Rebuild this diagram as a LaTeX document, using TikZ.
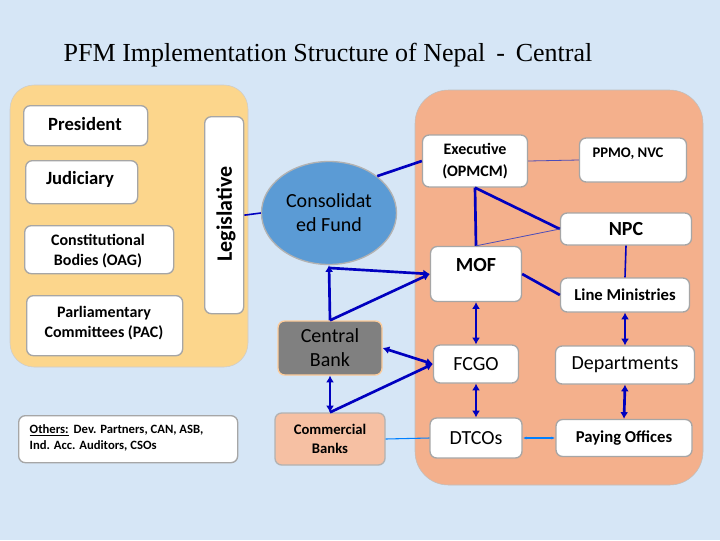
\documentclass[tikz,border=0pt]{standalone}
\usepackage{fontspec}
\setmainfont{Carlito}
\newfontfamily\titlefont{Liberation Serif}
\usetikzlibrary{arrows.meta,shapes.geometric}
\definecolor{bg}{RGB}{214,230,246}
\definecolor{yel}{RGB}{252,214,140}
\definecolor{org}{RGB}{244,176,140}
\definecolor{cfc}{RGB}{91,155,213}
\begin{document}
\begin{tikzpicture}[x=0.75pt,y=-0.75pt,
 bx/.style={draw=gray!70,line width=1pt,fill=white,rounded corners=5pt,align=center,inner sep=0pt},
 tk/.style={draw=blue!75!black,line width=2pt},
 med/.style={draw=blue!75!black,line width=1.2pt},
 thn/.style={draw=blue!60!black!70,line width=0.6pt},
 dbl/.style={tk,{Latex[length=5pt,width=6pt]}-{Latex[length=5pt,width=6pt]}},
 ar/.style={tk,-{Latex[length=5pt,width=6pt]}}]
\fill[bg] (0,0) rectangle (720,540);
\useasboundingbox (0,0) rectangle (720,540);
\node[font=\titlefont\fontsize{19.5}{22}\selectfont] (title) at (328,55) {PFM Implementation Structure of Nepal \,-\, Central};
% containers
\fill[yel,draw=gray!40,rounded corners=18pt] (10,85) rectangle (248,367);
\fill[org,draw=gray!50,rounded corners=25pt] (415,90) rectangle (703,485);
% left side
\node[bx,minimum width=124*0.75pt,minimum height=40*0.75pt,anchor=north west] (pres) at (23,105) {};
\node[font=\bfseries\fontsize{14}{16}\selectfont] at (85,124) {President};
\node[bx,minimum width=112*0.75pt,minimum height=43*0.75pt,anchor=north west] (jud) at (25,160) {};
\node[font=\bfseries\fontsize{14}{16}\selectfont] at (80,179) {Judiciary};
\node[bx,minimum width=149*0.75pt,minimum height=48*0.75pt,anchor=north west] (con) at (24,225) {};
\node[font=\bfseries\fontsize{12}{15}\selectfont,align=center] at (98,251) {Constitutional\\Bodies (OAG)};
\node[bx,minimum width=156*0.75pt,minimum height=60*0.75pt,anchor=north west] (pac) at (26,295) {};
\node[font=\bfseries\fontsize{12}{15}\selectfont,align=center] at (104,323) {Parliamentary\\Committees (PAC)};
\node[bx,minimum width=39*0.75pt,minimum height=197*0.75pt,anchor=north west] (leg) at (204,116) {};
\node[font=\bfseries\fontsize{16.5}{18}\selectfont,rotate=90] at (226,214) {Legislative};
\node[bx,minimum width=219*0.75pt,minimum height=47*0.75pt,anchor=north west] (oth) at (18,415) {};
\node[font=\bfseries\fontsize{9.5}{12}\selectfont,align=left,anchor=west] at (25,438) {\underline{Others:}\, Dev. Partners, CAN, ASB,\\Ind. Acc. Auditors, CSOs};
% middle
\node[ellipse,draw=gray!60,line width=1pt,fill=cfc,minimum width=135*0.75pt,minimum height=103*0.75pt,inner sep=0pt,font=\fontsize{15}{18}\selectfont,align=center] (cf) at (329,213) {Consolidat\\ed Fund};
\node[bx,fill=gray,draw=orange!40,minimum width=104*0.75pt,minimum height=54*0.75pt,font=\fontsize{15}{18}\selectfont] (cb) at (330,348) {Central\\Bank};
\node[bx,fill=org!80!white,draw=gray!60,minimum width=110*0.75pt,minimum height=52*0.75pt,font=\bfseries\fontsize{11}{14}\selectfont] (com) at (330,439) {Commercial\\Banks};
% right
\node[bx,minimum width=105*0.75pt,minimum height=52*0.75pt,font=\bfseries\fontsize{12}{16}\selectfont] (exe) at (475,161) {Executive\\(OPMCM)};
\node[bx,minimum width=107*0.75pt,minimum height=44*0.75pt] (ppmo) at (633,160) {};
\node[font=\bfseries\fontsize{11}{13}\selectfont] at (628,154) {PPMO, NVC};
\node[bx,minimum width=131*0.75pt,minimum height=32*0.75pt,font=\bfseries\fontsize{15}{18}\selectfont] (npc) at (626,229) {NPC};
\node[bx,minimum width=91*0.75pt,minimum height=55*0.75pt] (mof) at (476,274) {};
\node[font=\bfseries\fontsize{15}{18}\selectfont] at (476,265) {MOF};
\node[bx,minimum width=129*0.75pt,minimum height=34*0.75pt,font=\bfseries\fontsize{12.5}{15}\selectfont] (lm) at (625,295) {Line Ministries};
\node[bx,minimum width=85*0.75pt,minimum height=38*0.75pt,font=\fontsize{15}{18}\selectfont] (fcgo) at (476,364) {FCGO};
\node[bx,minimum width=139*0.75pt,minimum height=38*0.75pt,font=\fontsize{15}{18}\selectfont] (dep) at (625,365) {Departments};
\node[bx,minimum width=92*0.75pt,minimum height=40*0.75pt,font=\fontsize{15}{18}\selectfont] (dt) at (476,438) {DTCOs};
\node[bx,minimum width=136*0.75pt,minimum height=37*0.75pt,font=\bfseries\fontsize{12.5}{15}\selectfont] (pay) at (624,438) {Paying Offices};
% connectors
\draw[med] (leg.east) -- (cf.west);
\draw[tk] (exe.west) -- (cf.north east);
\draw[thn] (exe.east) -- (ppmo.west);
\draw[tk] (exe.south) -- (mof.north);
\draw[tk] (exe.south) -- (npc.west);
\draw[thn] (mof.north) -- (npc.west);
\draw[med] (npc.south) -- (lm.north);
\draw[tk] (mof.east) -- (lm.west);
\draw[dbl] (mof.south) -- (fcgo.north);
\draw[dbl] (lm.south) -- (dep.north);
\draw[dbl] (dep.south) -- (pay.north);
\draw[dbl] (fcgo.south) -- (dt.north);
\draw[ar] (cb.north) -- (cf.south);
\coordinate (cfb) at (330,268);
\draw[ar] (cfb) -- (mof.west);
\draw[ar] (cb.north) -- (mof.west);
\draw[dbl] (cb.east) -- (fcgo.west);
\draw[ar] (com.north) -- (fcgo.west);
\draw[dbl] (cb.south) -- (com.north);
\draw[blue!50!cyan,line width=0.8pt] (com.east) -- (dt.west);
\draw[blue!50!cyan,line width=0.8pt,{Latex[length=3pt]}-{Latex[length=3pt]}] (dt.east) -- (pay.west);
\end{tikzpicture}
\end{document}
